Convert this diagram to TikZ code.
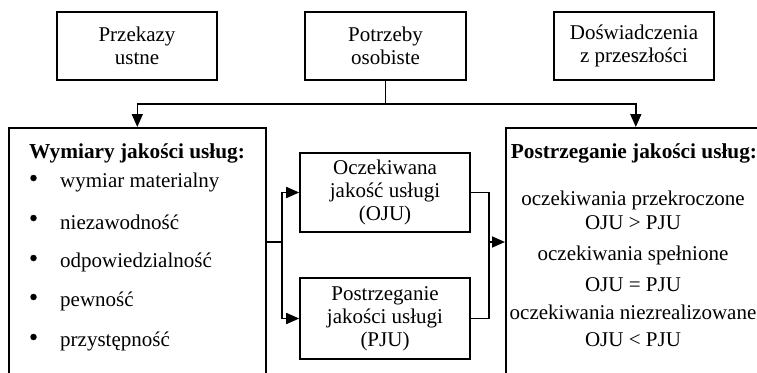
\documentclass[tikz,border=0pt]{standalone}
\usepackage{fontspec}
\setmainfont{Liberation Serif}
\usetikzlibrary{arrows.meta}

\tikzset{
	ramka/.style={rectangle,draw=black,line width=1.6pt,align=center,inner sep=0pt},
	duza/.style={rectangle,draw=black,line width=1.6pt,anchor=north west,inner sep=0pt},
	tekst/.style={inner sep=0pt},
	kropka/.style={circle,fill=black,inner sep=0pt,minimum size=6.5pt},
	linia/.style={black,line width=1.6pt},
	strzalka/.style={linia,-{Triangle[length=13pt,width=11pt]}}
}

\begin{document}
\begin{tikzpicture}[x=1pt,y=-1pt,font=\fontsize{21}{23}\selectfont]
	\useasboundingbox (0,0) rectangle (757,372);
	\clip (0,0) rectangle (757,372);

	% gorne ramki
	\node[ramka,minimum width=160pt,minimum height=68pt] (przekazy) at (137,46) {Przekazy\\ustne};
	\node[ramka,minimum width=161pt,minimum height=68pt] (potrzeby) at (385.5,46) {Potrzeby\\osobiste};
	\node[ramka,minimum width=160pt,minimum height=68pt] (doswiadczenia) at (634,46) {Doświadczenia\\z przeszłości};

	% duze ramki (ucięte przy krawędzi)
	\node[duza,minimum width=257pt,minimum height=260pt] (wymiary) at (8,127) {};
	\node[duza,minimum width=260pt,minimum height=260pt] (postrzeganie) at (505,127) {};

	% srodkowe ramki
	\node[ramka,minimum width=170pt,minimum height=79pt] (oju) at (385,192.5) {Oczekiwana\\jakość usługi\\(OJU)};
	\node[ramka,minimum width=170pt,minimum height=81pt] (pju) at (385,318.5) {Postrzeganie\\jakości usługi\\(PJU)};

	% lewa ramka
	\node[tekst,anchor=west,font=\fontsize{21.3}{23}\selectfont\bfseries] (wymtytul) at (29,153) {Wymiary jakości usług:};
	\foreach \n/\y/\t in {1/182/wymiar materialny,2/222/niezawodność,3/262/odpowiedzialność,4/301/pewność,5/341/przystępność}{
		\node[kropka] (kropka\n) at (33.5,\y-4) {};
		\node[tekst,anchor=west] (punkt\n) at (60,\y) {\t};
	}

	% prawa ramka
	\node[tekst,font=\fontsize{21.3}{23}\selectfont\bfseries] (posttytul) at (634,153) {Postrzeganie jakości usług:};
	\foreach \n/\y/\t in {1/200/oczekiwania przekroczone,2/223/OJU > PJU,3/255/oczekiwania spełnione,4/285/OJU = PJU,5/312/oczekiwania niezrealizowane,6/340/OJU < PJU}{
		\node[tekst] (wynik\n) at (633,\y) {\t};
	}

	% polaczenia
	\coordinate (rozgalezienie) at (385.5,104);
	\coordinate (lewy) at (282,242);
	\coordinate (prawy) at (489,242);
	\draw[linia] (potrzeby.south) -- (rozgalezienie);
	\draw[strzalka] (rozgalezienie) -| (wymiary.north);
	\draw[strzalka] (rozgalezienie) -| (postrzeganie.north);
	\draw[linia] (lewy -| wymiary.east) -- (lewy);
	\draw[strzalka] (lewy) |- (oju.west);
	\draw[strzalka] (lewy) |- (pju.west);
	\draw[linia] (oju.east) -| (prawy);
	\draw[linia] (pju.east) -| (prawy);
	\draw[strzalka] (prawy) -- (prawy -| postrzeganie.west);
\end{tikzpicture}
\end{document}
